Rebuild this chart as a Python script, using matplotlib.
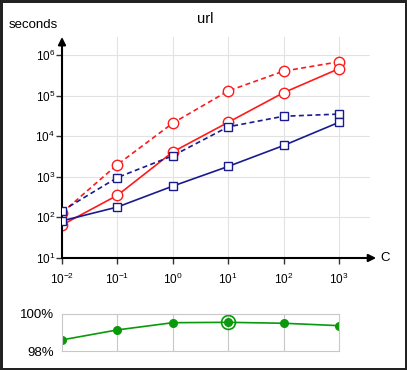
import numpy as np
import matplotlib.pyplot as plt

# values
C = [0.01, 0.1, 1, 10, 100, 1000]
red_dashed = [130, 2000, 21000, 130000, 400000, 680000]
red_solid = [65, 350, 4100, 22000, 118000, 460000]
blue_dashed = [145, 960, 3300, 17000, 31000, 35000]
blue_solid = [82, 180, 590, 1800, 5900, 22000]
accuracy = [98.6, 99.14, 99.53, 99.55, 99.5, 99.37]
best_idx = 3

plt.rcParams['font.family'] = ['Liberation Sans', 'DejaVu Sans']

fig = plt.figure(figsize=(4.07, 3.7), dpi=100, edgecolor='#222222', linewidth=2.5)

# main log-log panel
ax = fig.add_axes([62/407, 1 - 258/370, 308/407, 221/370])
ax.set_xscale('log')
ax.set_yscale('log')
ax.set_xlim(0.01, 10**(-2 + 308/55.4))
ax.set_ylim(10, 10**6.443)

red = '#ff1a1a'
blue = '#1a1a8f'
ax.plot(C, red_dashed, '--', color=red, lw=1.2, marker='o', ms=7.5, mfc='white', mec=red, mew=1, dashes=(3, 2), zorder=3)
ax.plot(C, red_solid, '-', color=red, lw=1.2, marker='o', ms=7.5, mfc='white', mec=red, mew=1, zorder=3)
ax.plot(C, blue_dashed, '--', color=blue, lw=1.2, marker='s', ms=5.8, mfc='white', mec=blue, mew=1, dashes=(3, 2), zorder=4)
ax.plot(C, blue_solid, '-', color=blue, lw=1.2, marker='s', ms=5.8, mfc='white', mec=blue, mew=1, zorder=4)

ax.set_xticks(C)
ax.set_yticks([10, 100, 1000, 1e4, 1e5, 1e6])
ax.minorticks_off()
ax.grid(True, color='#e2e2e2', lw=0.8)
ax.set_axisbelow(True)
for s in ['top', 'right', 'bottom', 'left']:
    ax.spines[s].set_visible(False)
ax.tick_params(axis='both', labelsize=8.5, length=4, width=1, color='#333333')
ax.tick_params(axis='x', pad=6)
ax.tick_params(axis='y', pad=1)

ax.annotate('', xy=(1.02, 0), xytext=(0, 0), xycoords='axes fraction',
            arrowprops=dict(arrowstyle='-|>', color='black', lw=1.5, mutation_scale=11, shrinkA=0, shrinkB=0))
ax.annotate('', xy=(0, 1.0), xytext=(0, 0), xycoords='axes fraction',
            arrowprops=dict(arrowstyle='-|>', color='black', lw=1.5, mutation_scale=11, shrinkA=0, shrinkB=0))

fig.text(385/407, 1 - 258/370, 'C', fontsize=9.5, ha='center', va='center')
fig.text(33/407, 1 - 25/370, 'seconds', fontsize=9.5, ha='center', va='center')
fig.text(205/407, 1 - 19/370, 'url', fontsize=10.5, ha='center', va='center')

# accuracy panel
ax2 = fig.add_axes([62/407, 1 - 351/370, 277/407, 37/370])
ax2.set_xscale('log')
ax2.set_xlim(0.01, 1000)
ax2.set_ylim(98, 100)
green = '#0a990a'
ax2.plot(C, accuracy, '-', color=green, lw=1.2, marker='o', ms=5.5, mfc=green, mec=green)
ax2.plot(C[best_idx], accuracy[best_idx], 'o', ms=10, mfc='none', mec=green, mew=1.2)
ax2.set_xticks(C[1:-1])
ax2.minorticks_off()
ax2.xaxis.grid(True, color='#c8c8c8', lw=0.8)
ax2.set_xticklabels([])
ax2.tick_params(axis='x', length=0)
ax2.set_yticks([98, 100])
ax2.set_yticklabels(['98%', '100%'])
ax2.tick_params(axis='y', length=0, labelsize=9.5, pad=6)
for s in ax2.spines.values():
    s.set_color('#c8c8c8')
    s.set_linewidth(0.8)

fig.savefig('out.png', dpi=100)
